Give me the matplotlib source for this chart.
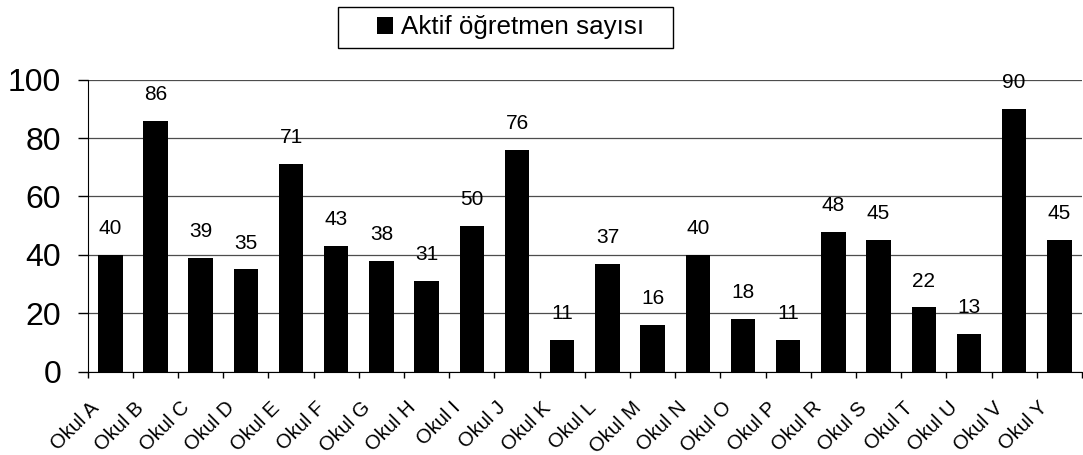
import matplotlib
matplotlib.use('Agg')
import matplotlib.pyplot as plt
from matplotlib.patches import Rectangle
from matplotlib.transforms import ScaledTranslation
import numpy as np

plt.rcParams['font.family'] = ['Liberation Sans', 'DejaVu Sans']

# okul isimleri ve ogretmen sayilari
okullar = ['Okul A', 'Okul B', 'Okul C', 'Okul D', 'Okul E', 'Okul F', 'Okul G',
           'Okul H', 'Okul I', 'Okul J', 'Okul K', 'Okul L', 'Okul M', 'Okul N',
           'Okul O', 'Okul P', 'Okul R', 'Okul S', 'Okul T', 'Okul U', 'Okul V',
           'Okul Y']
ogretmen = [40, 86, 39, 35, 71, 43, 38, 31, 50, 76, 11, 37, 16, 40, 18, 11,
            48, 45, 22, 13, 90, 45]
seri_adi = 'Aktif öğretmen sayısı'

fig = plt.figure(figsize=(10.83, 4.55), dpi=100)
ax = fig.add_axes([0.081, 0.183, 0.918, 0.642])

x = np.arange(len(okullar))
bars = ax.bar(x, ogretmen, width=0.54, color='black', label=seri_adi, zorder=3)

# bar ustu etiketler
for xi, v in zip(x, ogretmen):
    ax.annotate(str(v), (xi, v), xytext=(0, 19), textcoords='offset points',
                ha='center', va='center', fontsize=15, zorder=4)

ax.set_xlim(-0.5, len(okullar) - 0.5)
ax.set_ylim(0, 100)
ax.set_yticks(range(0, 101, 20))
ax.tick_params(axis='y', labelsize=23, length=7.2, width=1, direction='out', pad=12)
ax.yaxis.grid(True, color='#4d4d4d', linewidth=0.9, zorder=0)

# x tikleri kategori aralarinda
ax.set_xticks(np.arange(-0.5, len(okullar), 1), minor=False)
ax.set_xticklabels([])
ax.set_xticks(x, minor=True)
ax.set_xticklabels(okullar, minor=True, rotation=45, ha='right',
                   rotation_mode='anchor', fontsize=14.5)
ax.tick_params(axis='x', which='major', length=4.5, width=1, direction='out')
ax.tick_params(axis='x', which='minor', length=0, pad=19)
kaydir = ScaledTranslation(-0.21, 0, fig.dpi_scale_trans)
for lbl in ax.get_xticklabels(minor=True):
    lbl.set_transform(lbl.get_transform() + kaydir)

for s in ['top', 'right']:
    ax.spines[s].set_visible(False)
ax.spines['left'].set_color('black')
ax.spines['bottom'].set_color('black')

# lejant kutusu
fig.patches.append(Rectangle((338 / 1083, 1 - 48 / 455), 335 / 1083, 41 / 455,
                             transform=fig.transFigure, facecolor='white',
                             edgecolor='black', linewidth=1, zorder=5))
leg = fig.legend(handles=[bars], labels=[seri_adi], loc='center',
                 bbox_to_anchor=(0.4714, 0.9396), fontsize=18.7, frameon=False,
                 handlelength=0.6, handleheight=0.6, handletextpad=0.3,
                 borderpad=0, borderaxespad=0)
leg.set_zorder(6)

fig.savefig('out.png', dpi=100)
